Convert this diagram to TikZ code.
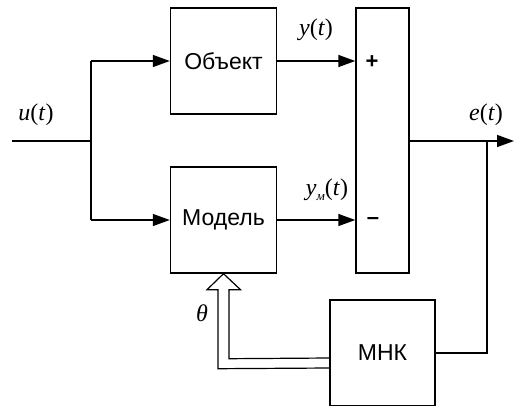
\documentclass[tikz,border=0pt]{standalone}
\usepackage{fontspec}
\setmainfont{Liberation Sans}
\newfontfamily\tms{Liberation Serif}
\usepackage{tikz}
\usetikzlibrary{
    arrows.meta,
    positioning,
    calc
}

\begin{document}
\begin{tikzpicture}[
    x=1pt, y=-1pt,
    block/.style={
        rectangle,
        draw,
        line width=1.4pt,
        minimum width=106pt,
        minimum height=106pt,
        font=\fontsize{23}{25}\selectfont,
        inner sep=0pt
    },
    arrow/.style={line width=1.4pt, -{Triangle[length=17pt,width=12pt]}},
    wire/.style={line width=1.4pt},
    lbl/.style={font=\tms\fontsize{24}{26}\selectfont, inner sep=0pt}
]
\useasboundingbox (0,0) rectangle (514,405);

% ============================================================
% NODOS
% ============================================================

% Objeto y modelo
\node[block] (obj) at (223.5, 61) {Объект};
\node[block] (model) at (223.5, 220) {Модель};

% Sumador
\node[block, minimum width=53pt, minimum height=265pt] (sum) at (382.5, 140.5) {};
\node[font=\fontsize{22}{24}\selectfont\bfseries, inner sep=0pt] (plus) at (372, 62) {+};
\node[font=\fontsize{22}{24}\selectfont\bfseries, inner sep=0pt] (minus) at (373, 221) {–};

% MNK
\node[block, minimum width=105pt] (mnk) at (382.5, 353) {МНК};

% Puntos auxiliares
\coordinate (in) at (12, 141);
\coordinate (split) at (91, 141);
\coordinate (out) at (514, 141);
\coordinate (tap) at (487, 141);

% ============================================================
% CONEXIONES
% ============================================================

% Entrada -> objeto y modelo
\draw[wire] (in) -- (split);
\draw[wire] (split |- obj) -- (split |- model);
\draw[arrow] (split |- obj) -- (obj.west);
\draw[arrow] (split |- model) -- (model.west);

% Salidas -> sumador
\draw[arrow] (obj.east) -- (obj.east -| sum.west);
\draw[arrow] (model.east) -- (model.east -| sum.west);

% Error -> MNK
\draw[arrow] (sum.east |- out) -- (out);
\draw[wire] (tap) |- (mnk.east);

% MNK -> modelo (flecha hueca)
\draw[line width=1.2pt]
    ($(mnk.west)+(0,15)$) -- ($(model.south)+(-5.5,95)$)
    -- ($(model.south)+(-5.5,16)$) -- ($(model.south)+(-16.5,16)$)
    -- (model.south) -- ($(model.south)+(17,16)$)
    -- ($(model.south)+(5.5,16)$) -- ($(model.south)+(5.5,85)$)
    -- ($(mnk.west)+(0,5)$);

% ============================================================
% ETIQUETAS
% ============================================================
\node[lbl] at (36, 115) {\textit{u}(\textit{t})};
\node[lbl] at (316, 30) {\textit{y}(\textit{t})};
\node[lbl] at (327, 190) {\textit{y}\raisebox{-5pt}{\fontsize{13}{13}\selectfont\textit{м}}(\textit{t})};
\node[lbl] at (486, 115) {\textit{e}(\textit{t})};
\node[lbl] at (202, 313) {\textit{θ}};

\end{tikzpicture}
\end{document}
